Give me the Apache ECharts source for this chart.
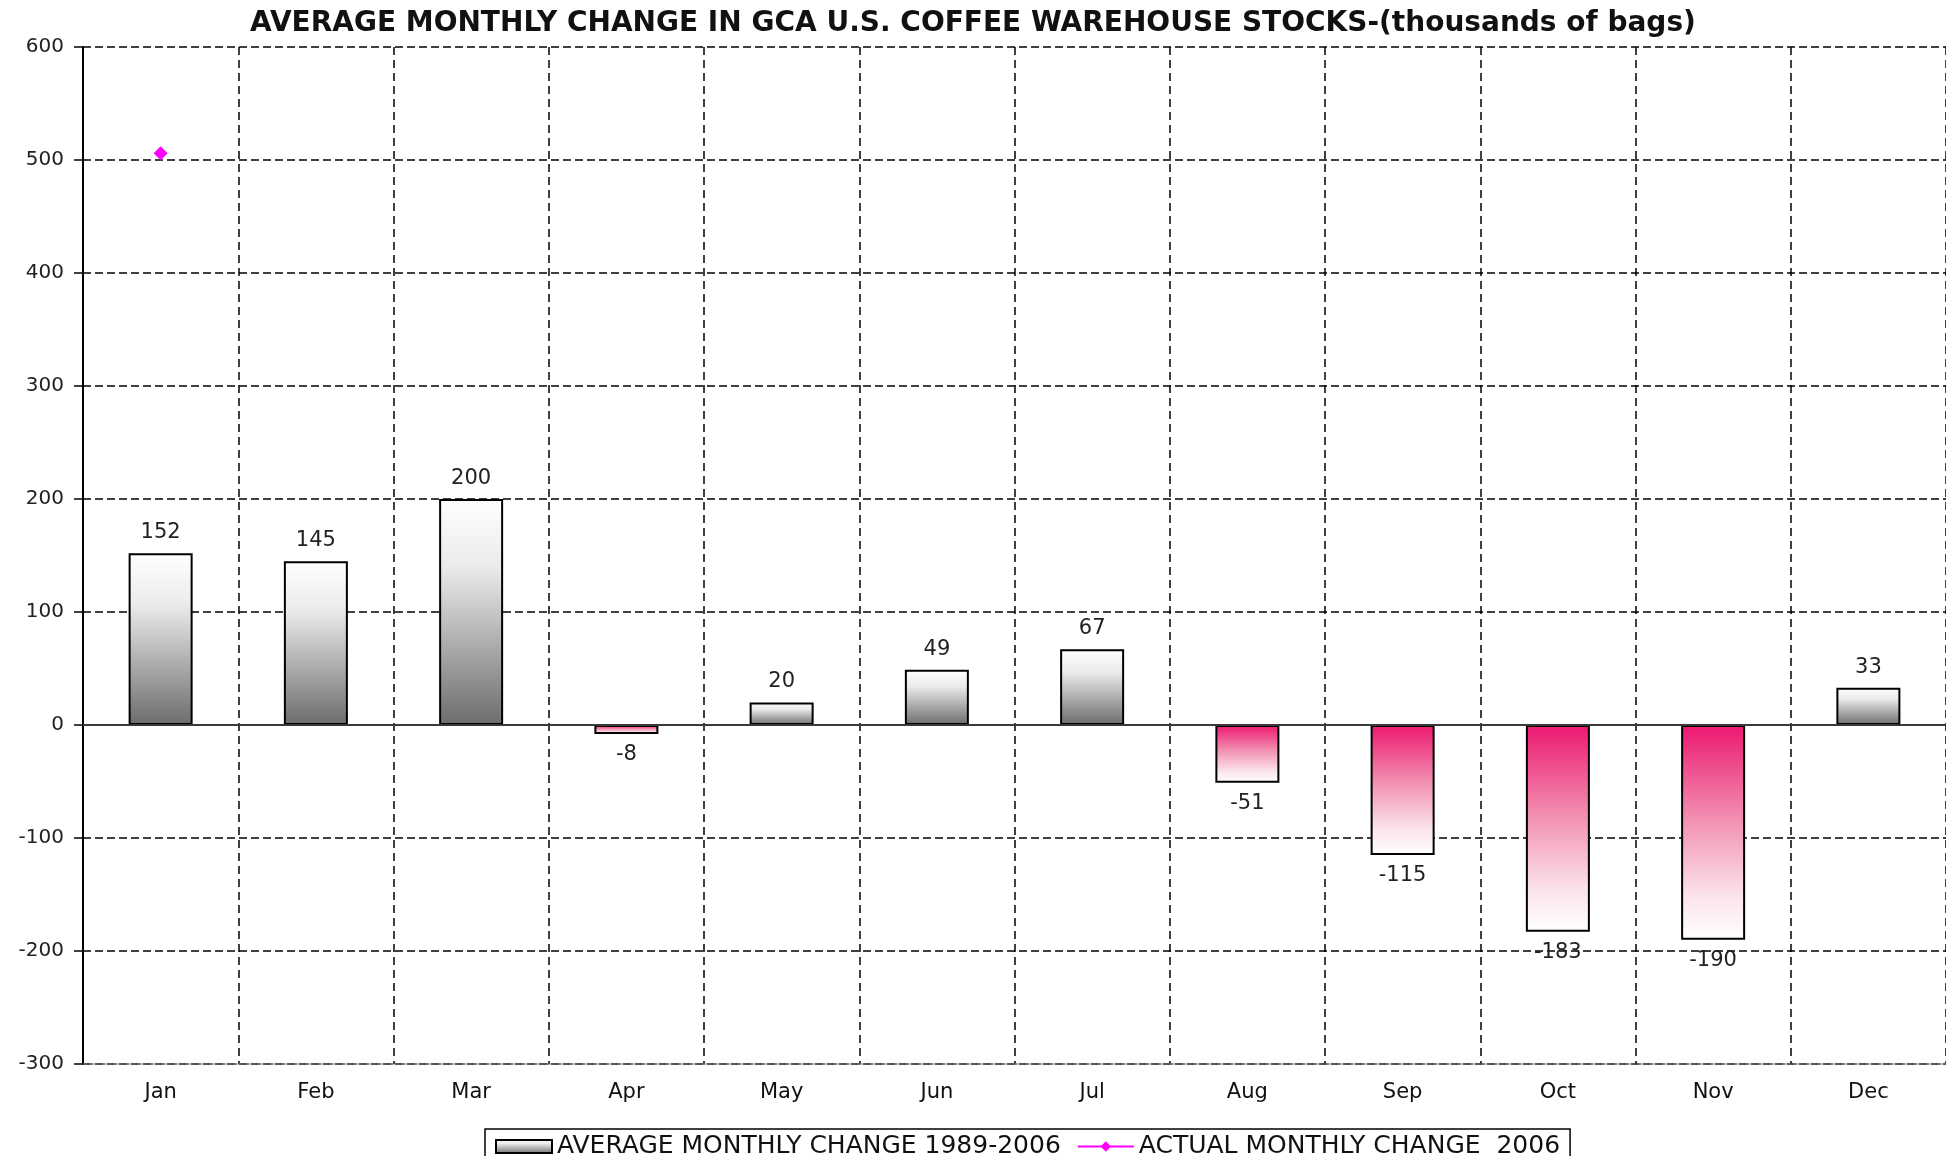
<!DOCTYPE html>
<html>
<head>
<meta charset="utf-8">
<script src="https://cdn.jsdelivr.net/npm/echarts@6/dist/echarts.min.js"></script>
<style>
html,body{margin:0;padding:0;background:#fff;}
#chart{width:1946px;height:1156px;}
</style>
</head>
<body>
<div id="chart"></div>
<script>
const titleText = 'AVERAGE MONTHLY CHANGE IN GCA U.S. COFFEE WAREHOUSE STOCKS-(thousands of bags)';
const months = ['Jan','Feb','Mar','Apr','May','Jun','Jul','Aug','Sep','Oct','Nov','Dec'];
const avgChange = [152,145,200,-8,20,49,67,-51,-115,-183,-190,33];
const actual2006 = [506,null,null,null,null,null,null,null,null,null,null,null];
const avgName = 'AVERAGE MONTHLY CHANGE 1989-2006';
const actualName = 'ACTUAL MONTHLY CHANGE  2006';
const yMin = -300, yMax = 600, yStep = 100;

const FONT = 'DejaVu Sans';
const grayGrad = {type:'linear',x:0,y:0,x2:0,y2:1,colorStops:[
  {offset:0,color:'#ffffff'},{offset:0.3,color:'#ebebeb'},{offset:1,color:'#6c6c6c'}]};
const pinkGrad = {type:'linear',x:0,y:0,x2:0,y2:1,colorStops:[
  {offset:0,color:'#ec1870'},{offset:0.45,color:'#f292b3'},{offset:0.8,color:'#fbe4eb'},{offset:1,color:'#ffffff'}]};

const barData = avgChange.map(v => ({
  value: v,
  itemStyle: {color: v >= 0 ? grayGrad : pinkGrad},
  label: {position: v >= 0 ? 'top' : 'bottom'}
}));

const chart = echarts.init(document.getElementById('chart'), null, {renderer:'canvas'});
chart.setOption({
  backgroundColor:'#ffffff',
  animation:false,
  title:{
    text:titleText, left:'center', top:5,
    textStyle:{fontFamily:FONT, fontWeight:'bold', fontSize:28, color:'#111'}
  },
  legend:{
    left:485, top:1129,
    data:[{name:avgName, icon:'rect'}, {name:actualName}],
    itemWidth:56, itemHeight:13, itemGap:16,
    borderColor:'#000', borderWidth:1.5, padding:[5,10],
    textStyle:{fontFamily:FONT, fontSize:25, color:'#111'}
  },
  grid:{left:83, top:47, width:1868, height:1017, containLabel:false},
  xAxis:{
    type:'category', data:months, boundaryGap:true, position:'bottom',
    axisLine:{show:true, onZero:false, lineStyle:{color:'#666', width:1.5, type:[4,2]}},
    axisTick:{show:false},
    axisLabel:{fontFamily:FONT, fontSize:21, color:'#111', margin:18},
    splitLine:{show:true, lineStyle:{color:'#000', width:1.5, type:[8,5]}}
  },
  yAxis:{
    type:'value', min:yMin, max:yMax, interval:yStep,
    axisLine:{show:true, lineStyle:{color:'#000', width:2}},
    axisTick:{show:true, length:9, lineStyle:{color:'#000', width:1.5}},
    axisLabel:{fontFamily:FONT, fontSize:20, color:'#222', margin:19},
    splitLine:{show:true, lineStyle:{color:'#000', width:1.5, type:[8,4]}}
  },
  series:[
    {
      name:avgName, type:'bar', data:barData, barWidth:64,
      itemStyle:{color:grayGrad, borderColor:'#000', borderWidth:2},
      label:{show:true, distance:10, fontFamily:FONT, fontSize:21, color:'#222'},
      markLine:{
        silent:true, symbol:'none', label:{show:false},
        lineStyle:{color:'#3a3a3a', width:2, type:'solid'},
        data:[{yAxis:0}]
      },
      z:3
    },
    {
      name:actualName, type:'line', data:actual2006,
      symbol:'diamond', symbolSize:14, showSymbol:true, connectNulls:false,
      itemStyle:{color:'#ff00ff'}, lineStyle:{color:'#ff00ff', width:2},
      z:4
    }
  ]
});
</script>
</body>
</html>
